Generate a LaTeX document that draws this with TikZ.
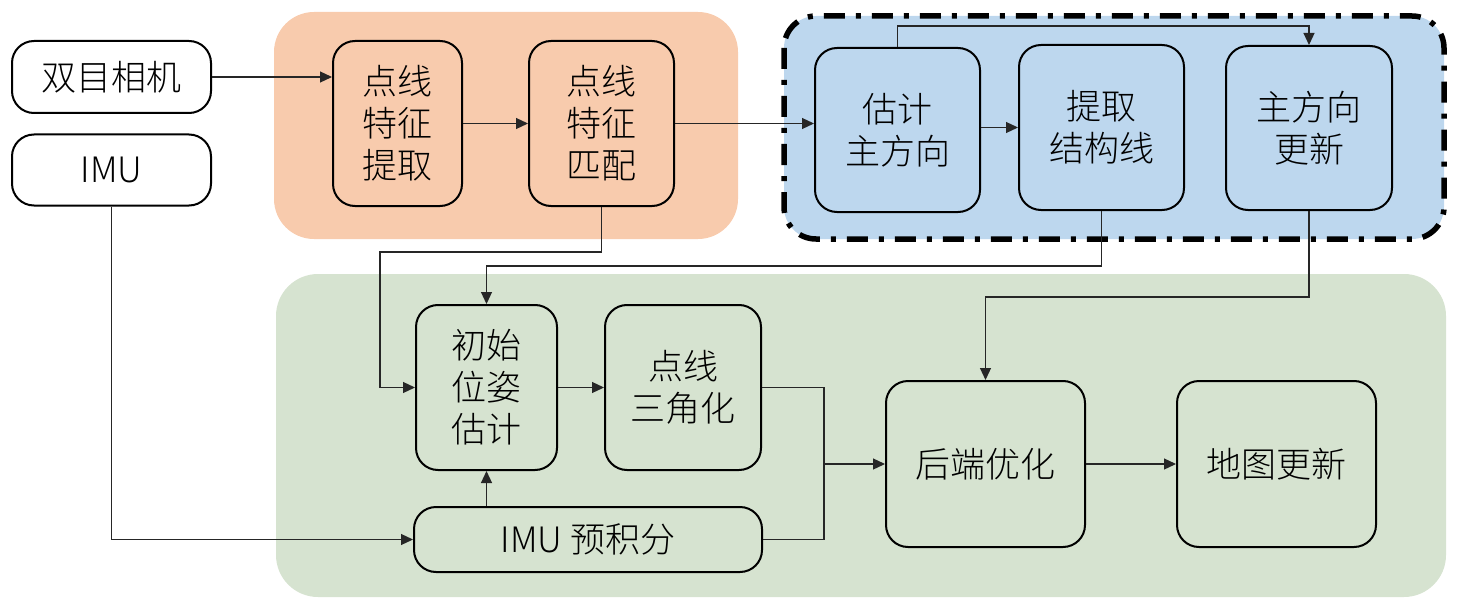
\documentclass[tikz,border=0pt]{standalone}
\usepackage{fontspec}
\setmainfont{Noto Sans CJK SC}[UprightFont={* Light}]
\usepackage{tikz}
\usetikzlibrary{arrows.meta}

\definecolor{regorange}{RGB}{248,203,173}
\definecolor{regblue}{RGB}{189,215,238}
\definecolor{reggreen}{RGB}{214,227,208}

\begin{document}
\begin{tikzpicture}[x=1pt,y=-1pt,
    blk/.style={draw,line width=2pt,rounded corners=22pt,align=center,inner sep=0pt,
      font=\fontsize{35}{42}\selectfont},
    wire/.style={line width=1.2pt,black!85},
    link/.style={wire,-{Triangle[length=12pt,width=11pt]}}]
  \useasboundingbox (0,0) rectangle (1464,615);
  % background regions
  \fill[regorange,rounded corners=40pt] (274,12) rectangle (738,239);
  \filldraw[fill=regblue,line width=5.5pt,dash pattern=on 21pt off 11pt on 5pt off 11pt,
    rounded corners=32pt] (784,16) rectangle (1444,239);
  \fill[reggreen,rounded corners=42pt] (276,274) rectangle (1446,597);
  % sensors
  \node[blk,fill=white,minimum width=199pt,minimum height=72pt] (cam) at (111.5,77) {双目相机};
  \node[blk,fill=white,minimum width=199pt,minimum height=71pt] (imu) at (111.5,170) {IMU};
  % front end
  \node[blk,minimum width=129pt,minimum height=165pt] (ext) at (397.5,123.5) {点线\\特征\\提取};
  \node[blk,minimum width=145pt,minimum height=165pt] (mat) at (601.5,123.5) {点线\\特征\\匹配};
  % structure lines
  \node[blk,minimum width=165pt,minimum height=164pt] (est) at (897.5,130) {估计\\主方向};
  \node[blk,minimum width=165pt,minimum height=165pt] (str) at (1101.5,127.5) {提取\\结构线};
  \node[blk,minimum width=166pt,minimum height=164pt] (upd) at (1309,128) {主方向\\更新};
  % back end
  \node[blk,minimum width=141pt,minimum height=165pt] (ini) at (486.5,387.5) {初始\\位姿\\估计};
  \node[blk,minimum width=156pt,minimum height=165pt] (tri) at (683,387.5) {点线\\三角化};
  \node[blk,minimum width=348pt,minimum height=65pt] (pre) at (588,539.5) {IMU 预积分};
  \node[blk,minimum width=199pt,minimum height=166pt] (back) at (985.5,464) {后端优化};
  \node[blk,minimum width=199pt,minimum height=166pt] (map) at (1276.5,464) {地图更新};
  % connectors
  \coordinate (matbend) at (380,252);
  \coordinate (join) at (824,464);
  \draw[link] (cam.east) -- (cam.east -| ext.west);
  \draw[link] (ext) -- (mat);
  \draw[link] (mat.east) -- (mat.east -| est.west);
  \draw[link] (str.west -| est.east) -- (str.west);
  \draw[link] (est.north) -- ++(0,-21) -| (upd.north);
  \draw[link] (str.south) -- ++(0,55) -| (ini.north);
  \draw[link] (mat.south) |- (matbend) |- (ini.west);
  \draw[link] (upd.south) -- ++(0,86) -| (back.north);
  \draw[link] (imu.south) |- (pre.west);
  \draw[link] (pre.north -| ini) -- (ini.south);
  \draw[link] (ini) -- (tri);
  \draw[wire] (tri.east) -| (join);
  \draw[wire] (pre.east) -| (join);
  \draw[link] (join) -- (back.west);
  \draw[link] (back) -- (map);
\end{tikzpicture}
\end{document}
